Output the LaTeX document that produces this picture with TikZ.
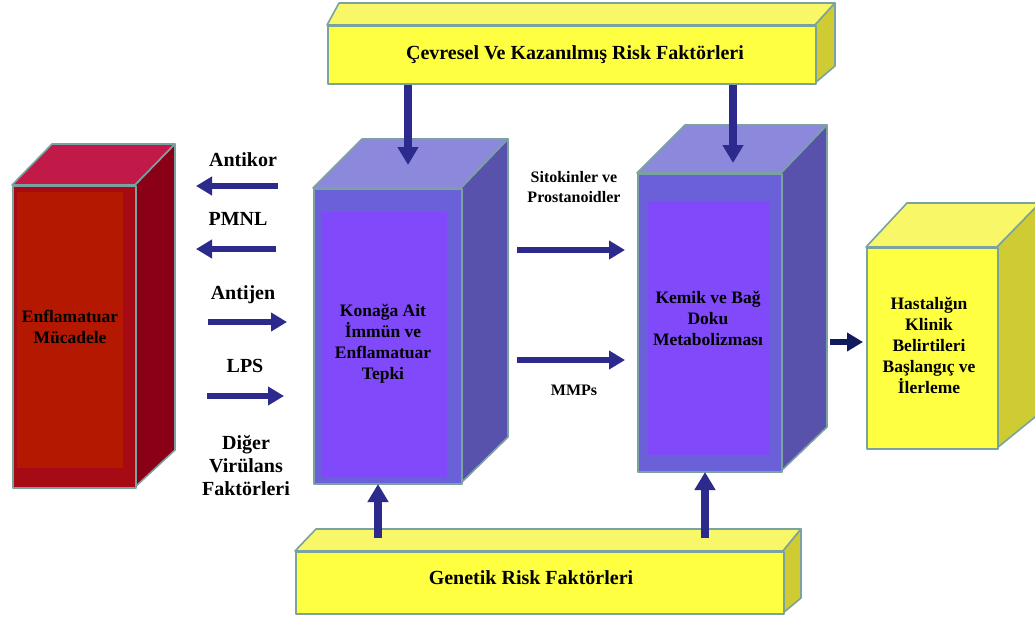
\documentclass[tikz,border=0pt]{standalone}
\usepackage{fontspec}
\setmainfont{Liberation Serif}
\usetikzlibrary{arrows.meta}
\definecolor{edge}{HTML}{7AA3A0}
\definecolor{redfront}{HTML}{A60A14}
\definecolor{redinner}{HTML}{B41800}
\definecolor{redtop}{HTML}{C21A48}
\definecolor{redside}{HTML}{8A0016}
\definecolor{bluefront}{HTML}{6A60D8}
\definecolor{bluetop}{HTML}{8C88DC}
\definecolor{blueside}{HTML}{5852AC}
\definecolor{blueinner}{HTML}{8049FA}
\definecolor{yelfront}{HTML}{FFFF42}
\definecolor{yeltop}{HTML}{F7F768}
\definecolor{yelside}{HTML}{CFCB33}
\definecolor{arrowblue}{HTML}{2D2A8E}
\definecolor{arrowdark}{HTML}{0F1B5C}
\begin{document}
\begin{tikzpicture}[x=1pt,y=-1pt,
  face/.style={draw=edge,line width=1.6pt,line join=round},
  inner/.style={fill=#1,draw=none},
  lbl/.style={font=\fontsize{20}{23}\selectfont\bfseries,align=center,inner sep=0pt},
  boxtxt/.style={font=\fontsize{17.5}{21}\selectfont\bfseries,align=center,inner sep=0pt},
  smalltxt/.style={font=\fontsize{16}{20}\selectfont\bfseries,align=center,inner sep=0pt},
  arr/.style={draw=arrowblue,line width=6pt,-{Triangle[length=16pt,width=18pt]}},
  varr/.style={draw=arrowblue,line width=7.5pt,-{Triangle[length=18pt,width=20pt]}}]
\useasboundingbox (0,0) rectangle (1035,616);
\fill[white] (0,0) rectangle (1035,616);

% ---------- red box ----------
\draw[face,fill=redtop] (12,185) -- (52,144) -- (175,144) -- (135,185) -- cycle;
\draw[face,fill=redside] (135,185) -- (175,144) -- (175,450) -- (135,487) -- cycle;
\node[face,fill=redfront,anchor=north west,minimum width=123pt,minimum height=302pt,inner sep=0pt] (red) at (12,185) {};
\fill[redinner] (17,192) rectangle (123,468);
\node[boxtxt] (redt) at (70,327) {Enflamatuar\\Mücadele};

% ---------- blue box 1 ----------
\draw[face,fill=bluetop] (313,188) -- (362,139) -- (508,139) -- (461,188) -- cycle;
\draw[face,fill=blueside] (461,188) -- (508,139) -- (508,437) -- (461,483) -- cycle;
\node[face,fill=bluefront,anchor=north west,minimum width=148pt,minimum height=295pt,inner sep=0pt] (host) at (313,188) {};
\fill[blueinner] (321,212) rectangle (447,477);
\node[boxtxt] (hostt) at (383,344) {Konağa Ait\\İmmün ve\\Enflamatuar\\Tepki};

% ---------- blue box 2 ----------
\draw[face,fill=bluetop] (637,173) -- (685,125) -- (827,125) -- (781,173) -- cycle;
\draw[face,fill=blueside] (781,173) -- (827,125) -- (827,427) -- (781,471) -- cycle;
\node[face,fill=bluefront,anchor=north west,minimum width=144pt,minimum height=298pt,inner sep=0pt] (bone) at (637,173) {};
\fill[blueinner] (648,201) rectangle (770,455);
\node[boxtxt] (bonet) at (708,318) {Kemik ve Bağ\\Doku\\Metabolizması};

% ---------- yellow right box ----------
\draw[face,fill=yeltop] (866,247) -- (907,203) -- (1040,203) -- (997,247) -- cycle;
\draw[face,fill=yelside] (997,247) -- (1040,203) -- (1040,413) -- (997,448) -- cycle;
\node[face,fill=yelfront,anchor=north west,minimum width=131pt,minimum height=201pt,inner sep=0pt] (clin) at (866,247) {};
\node[boxtxt] (clint) at (929,345) {Hastalığın\\Klinik\\Belirtileri\\Başlangıç ve\\İlerleme};

% ---------- top bar ----------
\draw[face,fill=yeltop] (327,25) -- (339,3) -- (835,3) -- (815,25) -- cycle;
\draw[face,fill=yelside] (815,25) -- (835,3) -- (835,66) -- (815,83) -- cycle;
\node[face,fill=yelfront,anchor=north west,minimum width=488pt,minimum height=58pt,inner sep=0pt] (env) at (327,25) {};
\node[lbl] (envt) at (575,55) {Çevresel Ve Kazanılmış Risk Faktörleri};

% ---------- bottom bar ----------
\draw[face,fill=yeltop] (295,551) -- (316,529) -- (801,529) -- (783,551) -- cycle;
\draw[face,fill=yelside] (783,551) -- (801,529) -- (801,598) -- (783,613) -- cycle;
\node[face,fill=yelfront,anchor=north west,minimum width=488pt,minimum height=62pt,inner sep=0pt] (gen) at (295,551) {};
\node[lbl] (gent) at (531,578) {Genetik Risk Faktörleri};

% ---------- left labels ----------
\node[lbl] (l1) at (243,160) {Antikor};
\node[lbl] (l2) at (238,219) {PMNL};
\node[lbl] (l3) at (243,295) {Antijen};
\node[lbl] (l4) at (245,366) {LPS};
\node[lbl] (l5) at (246,466) {Diğer\\Virülans\\Faktörleri};
\node[smalltxt] (m1) at (574,187) {Sitokinler ve\\Prostanoidler};
\node[smalltxt] (m2) at (574,390) {MMPs};

% ---------- arrow coordinates ----------
\coordinate (a1s) at (278,186); \coordinate (a1e) at (196,186);
\coordinate (a2s) at (276,249); \coordinate (a2e) at (196,249);
\coordinate (a3s) at (208,322); \coordinate (a3e) at (287,322);
\coordinate (a4s) at (207,396); \coordinate (a4e) at (284,396);
\coordinate (a5s) at (517,250); \coordinate (a5e) at (625,250);
\coordinate (a6s) at (517,360); \coordinate (a6e) at (625,360);
\coordinate (t1e) at (408,165); \coordinate (t2e) at (733,163);
\coordinate (b1s) at (378,538); \coordinate (b1e) at (378,484);
\coordinate (b2s) at (705,538); \coordinate (b2e) at (705,472);
\coordinate (c1s) at (830,342); \coordinate (c1e) at (863,342);

\draw[arr] (a1s) -- (a1e);
\draw[arr] (a2s) -- (a2e);
\draw[arr] (a3s) -- (a3e);
\draw[arr] (a4s) -- (a4e);
\draw[arr] (a5s) -- (a5e);
\draw[arr] (a6s) -- (a6e);
\draw[varr] (env.south -| t1e) -- (t1e);
\draw[varr] (env.south -| t2e) -- (t2e);
\draw[varr] (b1s) -- (b1e);
\draw[varr] (b2s) -- (b2e);
\draw[arr,draw=arrowdark] (c1s) -- (c1e);
\end{tikzpicture}
\end{document}
